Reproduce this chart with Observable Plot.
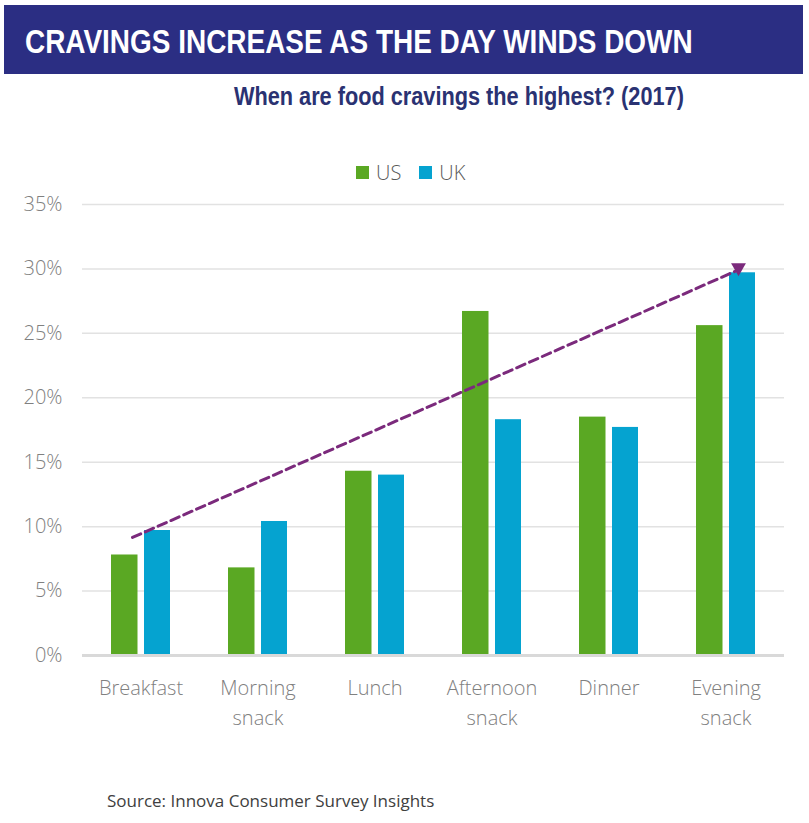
<!DOCTYPE html>
<html>
<head>
<meta charset="utf-8">
<script src="https://cdn.jsdelivr.net/npm/d3@7"></script>
<script src="https://cdn.jsdelivr.net/npm/@observablehq/plot@0.6"></script>
<style>
  html, body { margin: 0; padding: 0; background: #fff; }
  body { width: 809px; height: 823px; position: relative; overflow: hidden; font-family: "Open Sans", "Segoe UI", sans-serif; }
  #head { position: absolute; left: 0; top: 0; }
  #legend { position: absolute; top: 159px; left: 356px; font-size: 20px; font-weight: 300; color: #595959; display: flex; align-items: center; white-space: nowrap; }
  #legend .sw { display: inline-block; width: 13px; height: 13px; margin-right: 7px; }
  #legend .item { display: inline-flex; align-items: center; margin-right: 18px; }
  #chart { position: absolute; left: 0; top: 190px; }
  #source { position: absolute; left: 107px; top: 789px; font-size: 17px; color: #404040; font-weight: 400; }
</style>
</head>
<body>
<svg id="head" width="809" height="130">
  <rect x="4" y="5" width="799" height="69" fill="#2b2e83"></rect>
  <text id="title" data-x="25" data-y="53" data-w="668" fill="#ffffff" font-family="Liberation Sans, Arial, sans-serif" font-weight="bold" font-size="34">CRAVINGS INCREASE AS THE DAY WINDS DOWN</text>
  <text id="subtitle" data-x="234" data-y="105" data-w="450" fill="#2a3272" font-family="Liberation Sans, Arial, sans-serif" font-weight="bold" font-size="25">When are food cravings the highest? (2017)</text>
</svg>
<div id="legend"></div>
<div id="chart"></div>
<div id="source">Source: Innova Consumer Survey Insights</div>
<script>
// ---- data ----
const categories = ["Breakfast", "Morning snack", "Lunch", "Afternoon snack", "Dinner", "Evening snack"];
const tickLabels = ["Breakfast", "Morning\nsnack", "Lunch", "Afternoon\nsnack", "Dinner", "Evening\nsnack"];
const seriesNames = ["US", "UK"];
const usValues = [7.8, 6.8, 14.3, 26.7, 18.5, 25.6];
const ukValues = [9.7, 10.4, 14.0, 18.3, 17.7, 29.7];
const yTicks = [0, 5, 10, 15, 20, 25, 30, 35];
// trend arrow (read at Breakfast and Evening snack)
const trendFrom = {category: "Breakfast", value: 9.45};
const trendTo = {category: "Evening snack", value: 29.5};

const colors = {US: "#5aa823", UK: "#05a3d0"};

const usRows = categories.map((c, i) => ({category: c, series: "US", value: usValues[i]}));
const ukRows = categories.map((c, i) => ({category: c, series: "UK", value: ukValues[i]}));

// condensed heading text: scale horizontally to the measured width
["title", "subtitle"].forEach(id => {
  const t = document.getElementById(id);
  const len = t.getComputedTextLength();
  const sx = (+t.dataset.w) / len;
  t.setAttribute("transform", `translate(${t.dataset.x},${t.dataset.y}) scale(${sx},1)`);
});

// legend
const legend = document.getElementById("legend");
seriesNames.forEach(s => {
  const item = document.createElement("span");
  item.className = "item";
  const sw = document.createElement("span");
  sw.className = "sw";
  sw.style.background = colors[s];
  item.appendChild(sw);
  item.appendChild(document.createTextNode(s));
  legend.appendChild(item);
});

const chart = Plot.plot({
  width: 809,
  height: 560,
  marginLeft: 82,
  marginRight: 25,
  marginTop: 14,
  marginBottom: 95,
  style: {fontFamily: "'Open Sans', 'Segoe UI', sans-serif", background: "transparent"},
  x: {domain: categories, padding: 0, label: null},
  y: {domain: [0, 35], ticks: yTicks, label: null},
  marks: [
    Plot.gridY(yTicks.slice(1), {stroke: "#e2e2e2", strokeOpacity: 1, strokeWidth: 1.5}),
    Plot.barY(usRows, {x: "category", y: "value", fill: colors.US, insetLeft: 29, insetRight: 61.5}),
    Plot.barY(ukRows, {x: "category", y: "value", fill: colors.UK, insetLeft: 62, insetRight: 29}),
    Plot.ruleY([0], {stroke: "#d9d9d9", strokeWidth: 3}),
    Plot.arrow([{}], {
      x1: () => trendFrom.category, y1: () => trendFrom.value,
      x2: () => trendTo.category, y2: () => trendTo.value,
      stroke: "#7b2a7c", strokeWidth: 3, strokeDasharray: "9,5",
      headLength: 0, insetStart: -9.3, insetEnd: -12
    }),
    Plot.dot([trendTo], {x: "category", y: () => 30.1, dx: 12.5, symbol: "triangle", rotate: 180, r: 5.5, fill: "#7b2a7c", stroke: "none"}),
    Plot.axisY(yTicks, {tickSize: 0, tickPadding: 20, fontSize: 20, fill: "#808080", fontWeight: 300, tickFormat: d => d + "%"}),
    Plot.axisX(categories, {tickSize: 0, tickPadding: 18, fontSize: 20, fill: "#808080", fontWeight: 300, lineHeight: 1.5, tickFormat: (d, i) => tickLabels[categories.indexOf(d)]})
  ]
});
document.getElementById("chart").appendChild(chart);
</script>
</body>
</html>
